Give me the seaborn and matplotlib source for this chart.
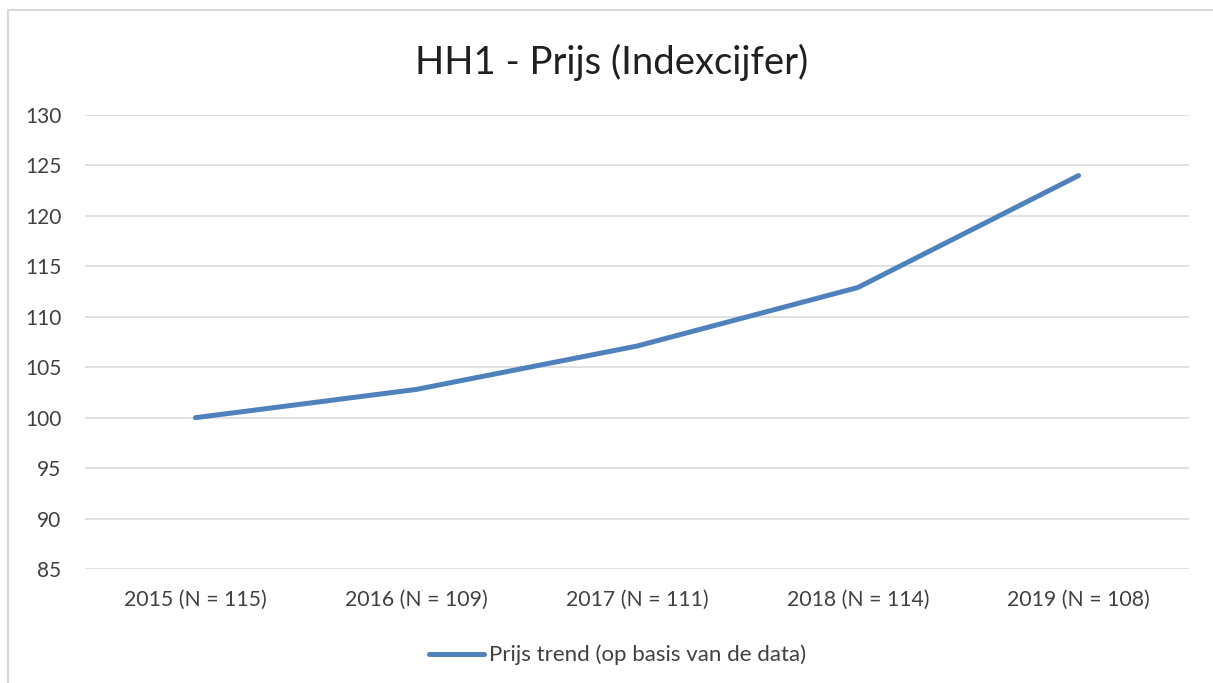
import numpy as np
import pandas as pd
import seaborn as sns
import matplotlib.pyplot as plt
from matplotlib.patches import Rectangle

# data
years = ["2015 (N = 115)", "2016 (N = 109)", "2017 (N = 111)",
         "2018 (N = 114)", "2019 (N = 108)"]
price_index = [100.0, 102.8, 107.1, 112.9, 124.0]
y_ticks = [85, 90, 95, 100, 105, 110, 115, 120, 125, 130]

series_label = "Prijs trend (op basis van de data)"
title = "HH1 - Prijs (Indexcijfer)"

df = pd.DataFrame({"jaar": years, "index": price_index})

sns.set_theme(style="white")
plt.rcParams["font.family"] = ["Lato", "DejaVu Sans"]

text_color = "#404040"
grid_color = "#D9D9D9"
line_color = "#4F81BD"

fig = plt.figure(figsize=(12.13, 6.83), dpi=100)
ax = fig.add_axes([0.0701, 0.1669, 0.9101, 0.6647])

sns.lineplot(
    data=df,
    x="jaar",
    y="index",
    ax=ax,
    color=line_color,
    linewidth=3.6,
    label=series_label,
    solid_capstyle="round",
    solid_joinstyle="round",
)

ax.set_xlim(-0.5, len(years) - 0.5)
ax.set_ylim(85, 130)
ax.set_yticks(y_ticks)
ax.set_xlabel("")
ax.set_ylabel("")

ax.grid(True, axis="y", color=grid_color, linewidth=1.1)
ax.grid(False, axis="x")
ax.set_axisbelow(True)
for side in ["top", "right", "left", "bottom"]:
    ax.spines[side].set_visible(False)

ax.tick_params(axis="y", length=0, pad=17, labelsize=15, labelcolor=text_color)
ax.tick_params(axis="x", length=0, pad=15, labelsize=15.3, labelcolor=text_color)

ax.legend().remove()
handles, labels = ax.get_legend_handles_labels()
fig.legend(
    handles,
    labels,
    loc="center",
    bbox_to_anchor=(0.509, 0.041),
    frameon=False,
    fontsize=16,
    labelcolor=text_color,
    handlelength=2.5,
    handletextpad=0.2,
)

fig.text(0.504, 0.909, title, ha="center", va="center",
         fontsize=27.5, color="#202020")

# outer chart border (cropped on right and bottom in the reference)
fig.add_artist(Rectangle((8 / 1213, -0.2), 1.5, 1.2 - 10 / 683,
                         transform=fig.transFigure, fill=False,
                         edgecolor=grid_color, linewidth=1.5))

fig.savefig("out.png", dpi=100, facecolor="white")
